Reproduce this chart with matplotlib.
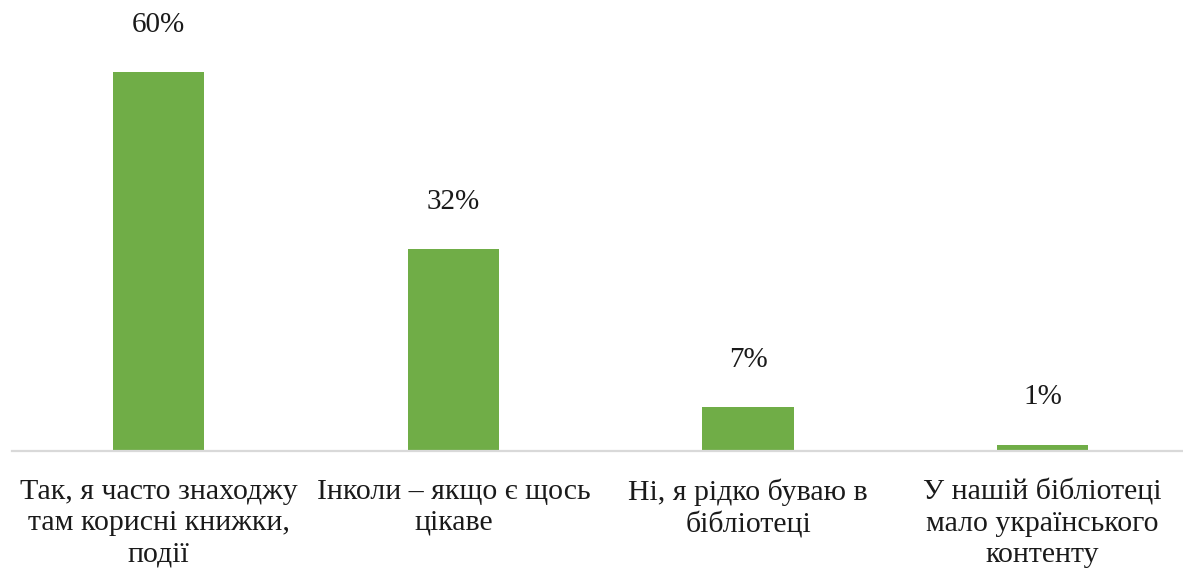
import matplotlib.pyplot as plt
import numpy as np

categories = [
    "Так, я часто знаходжу\nтам корисні книжки,\nподії",
    "Інколи – якщо є щось\nцікаве",
    "Ні, я рідко буваю в\nбібліотеці",
    "У нашій бібліотеці\nмало українського\nконтенту",
]
values = [60, 32, 7, 1]
labels = ["60%", "32%", "7%", "1%"]

plt.rcParams['font.family'] = ['Liberation Serif', 'DejaVu Serif']

W, H = 1183, 569
fig = plt.figure(figsize=(W / 100, H / 100), dpi=100)
# axes box in pixels: x from 11.5 to 1190, y from 72 (60%) to 451 (baseline)
ax = fig.add_axes([11.5 / W, 1 - 451 / H, (1190 - 11.5) / W, (451 - 72) / H])

x = np.arange(len(values))
ax.bar(x, values, width=0.31, color='#70AD47', zorder=2)

for xi, v, lab in zip(x, values, labels):
    ax.annotate(lab, (xi, v), xytext=(0, 34), textcoords='offset points',
                ha='center', va='center', fontsize=21, color='#1a1a1a',
                annotation_clip=False)

ax.set_xlim(-0.5, 3.5)
ax.set_ylim(0, 60)
ax.set_xticks(x)
ax.set_xticklabels(categories, fontsize=21.5, color='#1a1a1a', linespacing=1.26)
ax.tick_params(axis='x', length=0, pad=20)
ax.set_yticks([])
for s in ['top', 'right', 'left']:
    ax.spines[s].set_visible(False)
ax.spines['bottom'].set_color('#D9D9D9')
ax.spines['bottom'].set_linewidth(1.6)

fig.savefig('out.png', dpi=100)
